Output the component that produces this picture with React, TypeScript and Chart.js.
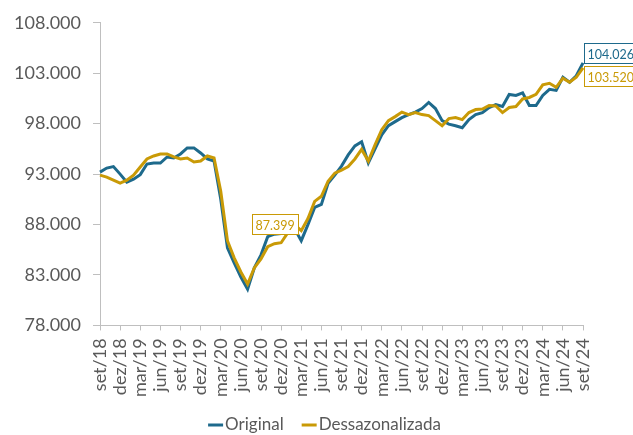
import React, { useEffect, useRef } from 'react';
import { Chart, registerables } from 'chart.js';

Chart.register(...registerables);

const CATEGORIES = [
  'set/18', 'out/18', 'nov/18', 'dez/18',
  'jan/19', 'fev/19', 'mar/19', 'abr/19', 'mai/19', 'jun/19', 'jul/19', 'ago/19', 'set/19', 'out/19', 'nov/19', 'dez/19',
  'jan/20', 'fev/20', 'mar/20', 'abr/20', 'mai/20', 'jun/20', 'jul/20', 'ago/20', 'set/20', 'out/20', 'nov/20', 'dez/20',
  'jan/21', 'fev/21', 'mar/21', 'abr/21', 'mai/21', 'jun/21', 'jul/21', 'ago/21', 'set/21', 'out/21', 'nov/21', 'dez/21',
  'jan/22', 'fev/22', 'mar/22', 'abr/22', 'mai/22', 'jun/22', 'jul/22', 'ago/22', 'set/22', 'out/22', 'nov/22', 'dez/22',
  'jan/23', 'fev/23', 'mar/23', 'abr/23', 'mai/23', 'jun/23', 'jul/23', 'ago/23', 'set/23', 'out/23', 'nov/23', 'dez/23',
  'jan/24', 'fev/24', 'mar/24', 'abr/24', 'mai/24', 'jun/24', 'jul/24', 'ago/24', 'set/24',
];

const SERIES_NAMES = ['Original', 'Dessazonalizada'];

const ORIGINAL = [
  93200, 93600, 93750, 93000, 92200, 92500, 92950, 94000, 94100, 94100, 94700, 94600, 95000, 95600, 95600, 95100,
  94500, 94300, 90500, 85700, 84200, 82800, 81600, 83700, 85000, 86800, 87050, 87100,
  87300, 87600, 86400, 88000, 89700, 90000, 92100, 92900, 93800, 94900, 95800, 96200,
  94100, 95500, 96900, 97800, 98200, 98600, 98900, 99150, 99500, 100100, 99500, 98300,
  97950, 97800, 97600, 98400, 98900, 99100, 99600, 99900, 99700, 100900, 100800, 101050,
  99800, 99800, 100800, 101400, 101300, 102600, 102100, 102750, 104026,
];

const DESSAZONALIZADA = [
  92900, 92700, 92400, 92100, 92400, 92900, 93700, 94500, 94800, 95000, 95000, 94700, 94500, 94600, 94200, 94300,
  94800, 94600, 91300, 86400, 84700, 83300, 82100, 83700, 84600, 85800, 86100, 86200,
  87200, 88000, 87399, 88600, 90300, 90800, 92300, 93100, 93400, 93750, 94500, 95450,
  94300, 95900, 97400, 98300, 98700, 99150, 98900, 99100, 98900, 98800, 98300, 97800,
  98500, 98600, 98400, 99100, 99400, 99450, 99800, 99750, 99100, 99600, 99700, 100450,
  100600, 100900, 101850, 102000, 101600, 102500, 102100, 102600, 103520,
];

const Y_MIN = 78000;
const Y_MAX = 108000;
const Y_STEP = 5000;

const COLORS = ['#1E6A8C', '#C99A06'];
const AXIS_COLOR = '#BFBFBF';
const TEXT_COLOR = '#595959';
const FONT = 'Lato';

// data labels: dataset index, point index, side, vertical offset
const DATA_LABELS = [
  { dataset: 0, index: 72, side: 'right', dy: -10 },
  { dataset: 1, index: 72, side: 'right', dy: 8 },
  { dataset: 1, index: 30, side: 'left', dy: -7 },
];

const fmt = (v: number) =>
  Math.round(v)
    .toString()
    .replace(/\B(?=(\d{3})+(?!\d))/g, '.');

const dataLabelPlugin = {
  id: 'dataLabelBoxes',
  afterDatasetsDraw(chart: any) {
    const ctx = chart.ctx;
    ctx.save();
    ctx.font = `12.5px ${FONT}`;
    ctx.textBaseline = 'middle';
    ctx.textAlign = 'left';
    DATA_LABELS.forEach((l) => {
      const el = chart.getDatasetMeta(l.dataset).data[l.index];
      const val = chart.data.datasets[l.dataset].data[l.index];
      const text = fmt(val);
      const tw = ctx.measureText(text).width;
      const w = Math.round(tw + 7);
      const h = 20;
      const x0 = Math.round(l.side === 'right' ? el.x + 0.5 : el.x - 3.5 - w) + 0.5;
      const y0 = Math.round(el.y + l.dy - h / 2) + 0.5;
      ctx.fillStyle = '#FFFFFF';
      ctx.fillRect(x0, y0, w, h);
      ctx.strokeStyle = COLORS[l.dataset];
      ctx.lineWidth = 1;
      ctx.strokeRect(x0, y0, w, h);
      ctx.fillStyle = COLORS[l.dataset];
      ctx.fillText(text, x0 + 3, y0 + h / 2 + 1);
    });
    ctx.restore();
  },
};

const legendPlugin = {
  id: 'bottomLegend',
  afterDraw(chart: any) {
    const ctx = chart.ctx;
    ctx.save();
    ctx.font = `17px ${FONT}`;
    ctx.textBaseline = 'middle';
    ctx.textAlign = 'left';
    const lineW = 15;
    const gap = 2;
    const itemGap = 18;
    const widths = SERIES_NAMES.map((n) => lineW + gap + ctx.measureText(n).width);
    const total = widths.reduce((a, b) => a + b, 0) + itemGap * (SERIES_NAMES.length - 1);
    let x = chart.width / 2 + 8 - total / 2;
    const y = chart.height - 10;
    SERIES_NAMES.forEach((n, i) => {
      ctx.strokeStyle = COLORS[i];
      ctx.lineWidth = 3;
      ctx.beginPath();
      ctx.moveTo(x, y);
      ctx.lineTo(x + lineW, y);
      ctx.stroke();
      ctx.fillStyle = TEXT_COLOR;
      ctx.fillText(n, x + lineW + gap, y);
      x += widths[i] + itemGap;
    });
    ctx.restore();
  },
};

export default function App() {
  const canvasRef = useRef<HTMLCanvasElement | null>(null);

  useEffect(() => {
    document.body.style.margin = '0';
    const canvas = canvasRef.current;
    if (!canvas) return;
    const chart = new Chart(canvas, {
      type: 'line',
      data: {
        labels: CATEGORIES,
        datasets: [
          {
            label: SERIES_NAMES[0],
            data: ORIGINAL,
            borderColor: COLORS[0],
            backgroundColor: COLORS[0],
            borderWidth: 3,
            pointRadius: 0,
            tension: 0,
            order: 1,
          },
          {
            label: SERIES_NAMES[1],
            data: DESSAZONALIZADA,
            borderColor: COLORS[1],
            backgroundColor: COLORS[1],
            borderWidth: 3,
            pointRadius: 0,
            tension: 0,
            order: 0,
          },
        ],
      },
      options: {
        responsive: false,
        animation: false,
        devicePixelRatio: 1,
        layout: { padding: { top: 19, right: 50, bottom: 30, left: 0 } },
        plugins: {
          legend: { display: false },
          tooltip: { enabled: false },
        },
        scales: {
          x: {
            type: 'category',
            offset: false,
            ticks: {
              autoSkip: false,
              maxRotation: 90,
              minRotation: 90,
              color: TEXT_COLOR,
              padding: 8,
              font: { family: FONT, size: 18 },
              callback: (_v: any, idx: number) => (idx % 3 === 0 ? CATEGORIES[idx] : ''),
            },
            grid: {
              drawOnChartArea: false,
              drawTicks: true,
              tickLength: 5,
              color: AXIS_COLOR,
              tickColor: (c: any) => (c.index % 3 === 0 ? AXIS_COLOR : 'rgba(0,0,0,0)'),
            },
            border: { display: true, color: AXIS_COLOR },
          },
          y: {
            min: Y_MIN,
            max: Y_MAX,
            ticks: {
              stepSize: Y_STEP,
              color: TEXT_COLOR,
              padding: 12,
              font: { family: FONT, size: 18 },
              callback: (v: any) => fmt(Number(v)),
            },
            grid: {
              drawOnChartArea: false,
              drawTicks: true,
              tickLength: 7,
              color: AXIS_COLOR,
            },
            border: { display: true, color: AXIS_COLOR },
            afterFit: (s: any) => {
              s.width = 100;
            },
          },
        },
      },
      plugins: [dataLabelPlugin, legendPlugin],
    });
    return () => chart.destroy();
  }, []);

  return (
    <div style={{ width: 633, height: 435, background: '#FFFFFF' }}>
      <canvas ref={canvasRef} width={633} height={435} style={{ display: 'block' }} />
    </div>
  );
}
